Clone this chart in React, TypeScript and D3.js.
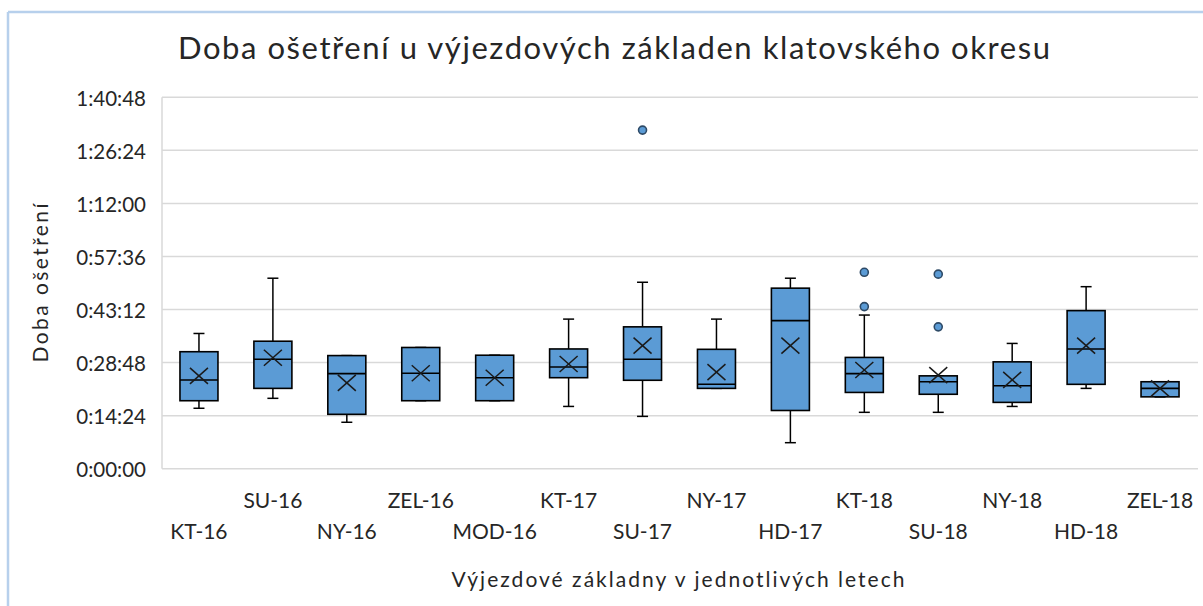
import React from "react";
import * as d3 from "d3";

// ---- Data (values in minutes) ----
const categories = [
  "KT-16", "SU-16", "NY-16", "ZEL-16", "MOD-16", "KT-17", "SU-17",
  "NY-17", "HD-17", "KT-18", "SU-18", "NY-18", "HD-18", "ZEL-18",
];
const whiskerLow = [16.4, 19.1, 12.6, 18.45, 18.45, 16.9, 14.2, 21.8, 7.06, 15.3, 15.3, 16.9, 21.8, 19.5];
const q1 = [18.45, 21.8, 14.76, 18.45, 18.45, 24.7, 24.0, 21.8, 15.8, 20.7, 20.2, 18.0, 22.9, 19.5];
const median = [24.07, 29.7, 25.8, 25.9, 24.7, 27.6, 29.7, 22.9, 40.2, 25.8, 23.6, 22.5, 32.5, 21.8];
const q3 = [31.75, 34.6, 30.7, 32.9, 30.8, 32.5, 38.5, 32.4, 49.0, 30.2, 25.2, 29.0, 42.9, 23.6];
const whiskerHigh = [36.7, 51.7, 30.7, 32.9, 30.8, 40.6, 50.6, 40.6, 51.7, 41.7, 25.2, 34.0, 49.4, 23.6];
const mean = [25.2, 30.1, 23.3, 25.9, 24.7, 28.4, 33.4, 26.2, 33.4, 26.8, 25.4, 24.1, 33.4, 21.8];
const outliers: number[][] = [[], [], [], [], [], [], [91.9], [], [], [53.3, 44.0], [52.8, 38.5], [], [], []];

const tickMinutes = [0, 14.4, 28.8, 43.2, 57.6, 72, 86.4, 100.8];

const title = "Doba ošetření u výjezdových základen klatovského okresu";
const yTitle = "Doba ošetření";
const xTitle = "Výjezdové základny v jednotlivých letech";

function fmt(m: number) {
  const total = Math.round(m * 60);
  const h = Math.floor(total / 3600);
  const mm = Math.floor((total % 3600) / 60);
  const ss = total % 60;
  return `${h}:${String(mm).padStart(2, "0")}:${String(ss).padStart(2, "0")}`;
}

const W = 1203;
const H = 606;
const FONT = "Lato, 'Noto Sans', sans-serif";
const BLUE = "#5B9BD5";

export default function App() {
  const x = d3.scaleBand<string>().domain(categories).range([162, 1197]);
  const y = d3.scaleLinear().domain([0, 100.8]).range([468.7, 97.3]);
  const bw = 38;
  const cap = 11;
  const xs = 9;

  return (
    <svg
      width={W}
      height={H}
      style={{ position: "absolute", left: 0, top: 0, background: "#fff" }}
      fontFamily={FONT}
    >
      <rect x={0} y={0} width={W} height={H} fill="#fff" />
      {/* chart outline */}
      <line x1={8} y1={12} x2={W} y2={12} stroke="#B7D0EC" strokeWidth={2.5} />
      <line x1={8} y1={12} x2={8} y2={H} stroke="#B7D0EC" strokeWidth={2.5} />

      {/* title */}
      <text x={178} y={59} fontSize={31} fill="#262626" textLength={872} lengthAdjust="spacing">{title}</text>

      {/* gridlines */}
      {tickMinutes.map((t) => (
        <line key={"g" + t} x1={162} x2={1198} y1={y(t)} y2={y(t)} stroke="#D9D9D9" strokeWidth={1.5} />
      ))}
      <line x1={162} x2={162} y1={y(100.8)} y2={y(0)} stroke="#D9D9D9" strokeWidth={1.5} />

      {/* y tick labels */}
      {tickMinutes.map((t) => (
        <text key={"t" + t} x={146} y={y(t) + 8.5} textAnchor="end" fontSize={20.5} fill="#262626">
          {fmt(t)}
        </text>
      ))}

      {/* y title */}
      <text transform="translate(48,283) rotate(-90)" textAnchor="middle" fontSize={21} fill="#262626" textLength={159} lengthAdjust="spacing">
        {yTitle}
      </text>

      {/* boxes */}
      {categories.map((c, i) => {
        const cx = (x(c) as number) + x.bandwidth() / 2;
        const my = y(mean[i]);
        return (
          <g key={c}>
            <line x1={cx} x2={cx} y1={y(whiskerHigh[i])} y2={y(q3[i])} stroke="#000" strokeWidth={1.5} />
            <line x1={cx} x2={cx} y1={y(q1[i])} y2={y(whiskerLow[i])} stroke="#000" strokeWidth={1.5} />
            <line x1={cx - cap / 2} x2={cx + cap / 2} y1={y(whiskerHigh[i])} y2={y(whiskerHigh[i])} stroke="#000" strokeWidth={1.5} />
            <line x1={cx - cap / 2} x2={cx + cap / 2} y1={y(whiskerLow[i])} y2={y(whiskerLow[i])} stroke="#000" strokeWidth={1.5} />
            <rect
              x={cx - bw / 2}
              y={y(q3[i])}
              width={bw}
              height={y(q1[i]) - y(q3[i])}
              fill={BLUE}
              stroke="#000"
              strokeWidth={1.6}
            />
            <line x1={cx - bw / 2} x2={cx + bw / 2} y1={y(median[i])} y2={y(median[i])} stroke="#000" strokeWidth={1.6} />
            <line x1={cx - xs} x2={cx + xs} y1={my - 8} y2={my + 8} stroke="#1a1a1a" strokeWidth={1.5} />
            <line x1={cx - xs} x2={cx + xs} y1={my + 8} y2={my - 8} stroke="#1a1a1a" strokeWidth={1.5} />
            {outliers[i].map((o, k) => (
              <circle key={k} cx={cx} cy={y(o)} r={4} fill={BLUE} stroke="#2E4A66" strokeWidth={1.6} />
            ))}
          </g>
        );
      })}

      {/* x labels */}
      {categories.map((c, i) => {
        const cx = (x(c) as number) + x.bandwidth() / 2;
        return (
          <text key={"x" + c} x={cx} y={i % 2 === 0 ? 539 : 508} textAnchor="middle" fontSize={21} fill="#262626">
            {c}
          </text>
        );
      })}

      {/* x title */}
      <text x={678} y={587} textAnchor="middle" fontSize={21} fill="#262626" textLength={453} lengthAdjust="spacing">
        {xTitle}
      </text>
    </svg>
  );
}
